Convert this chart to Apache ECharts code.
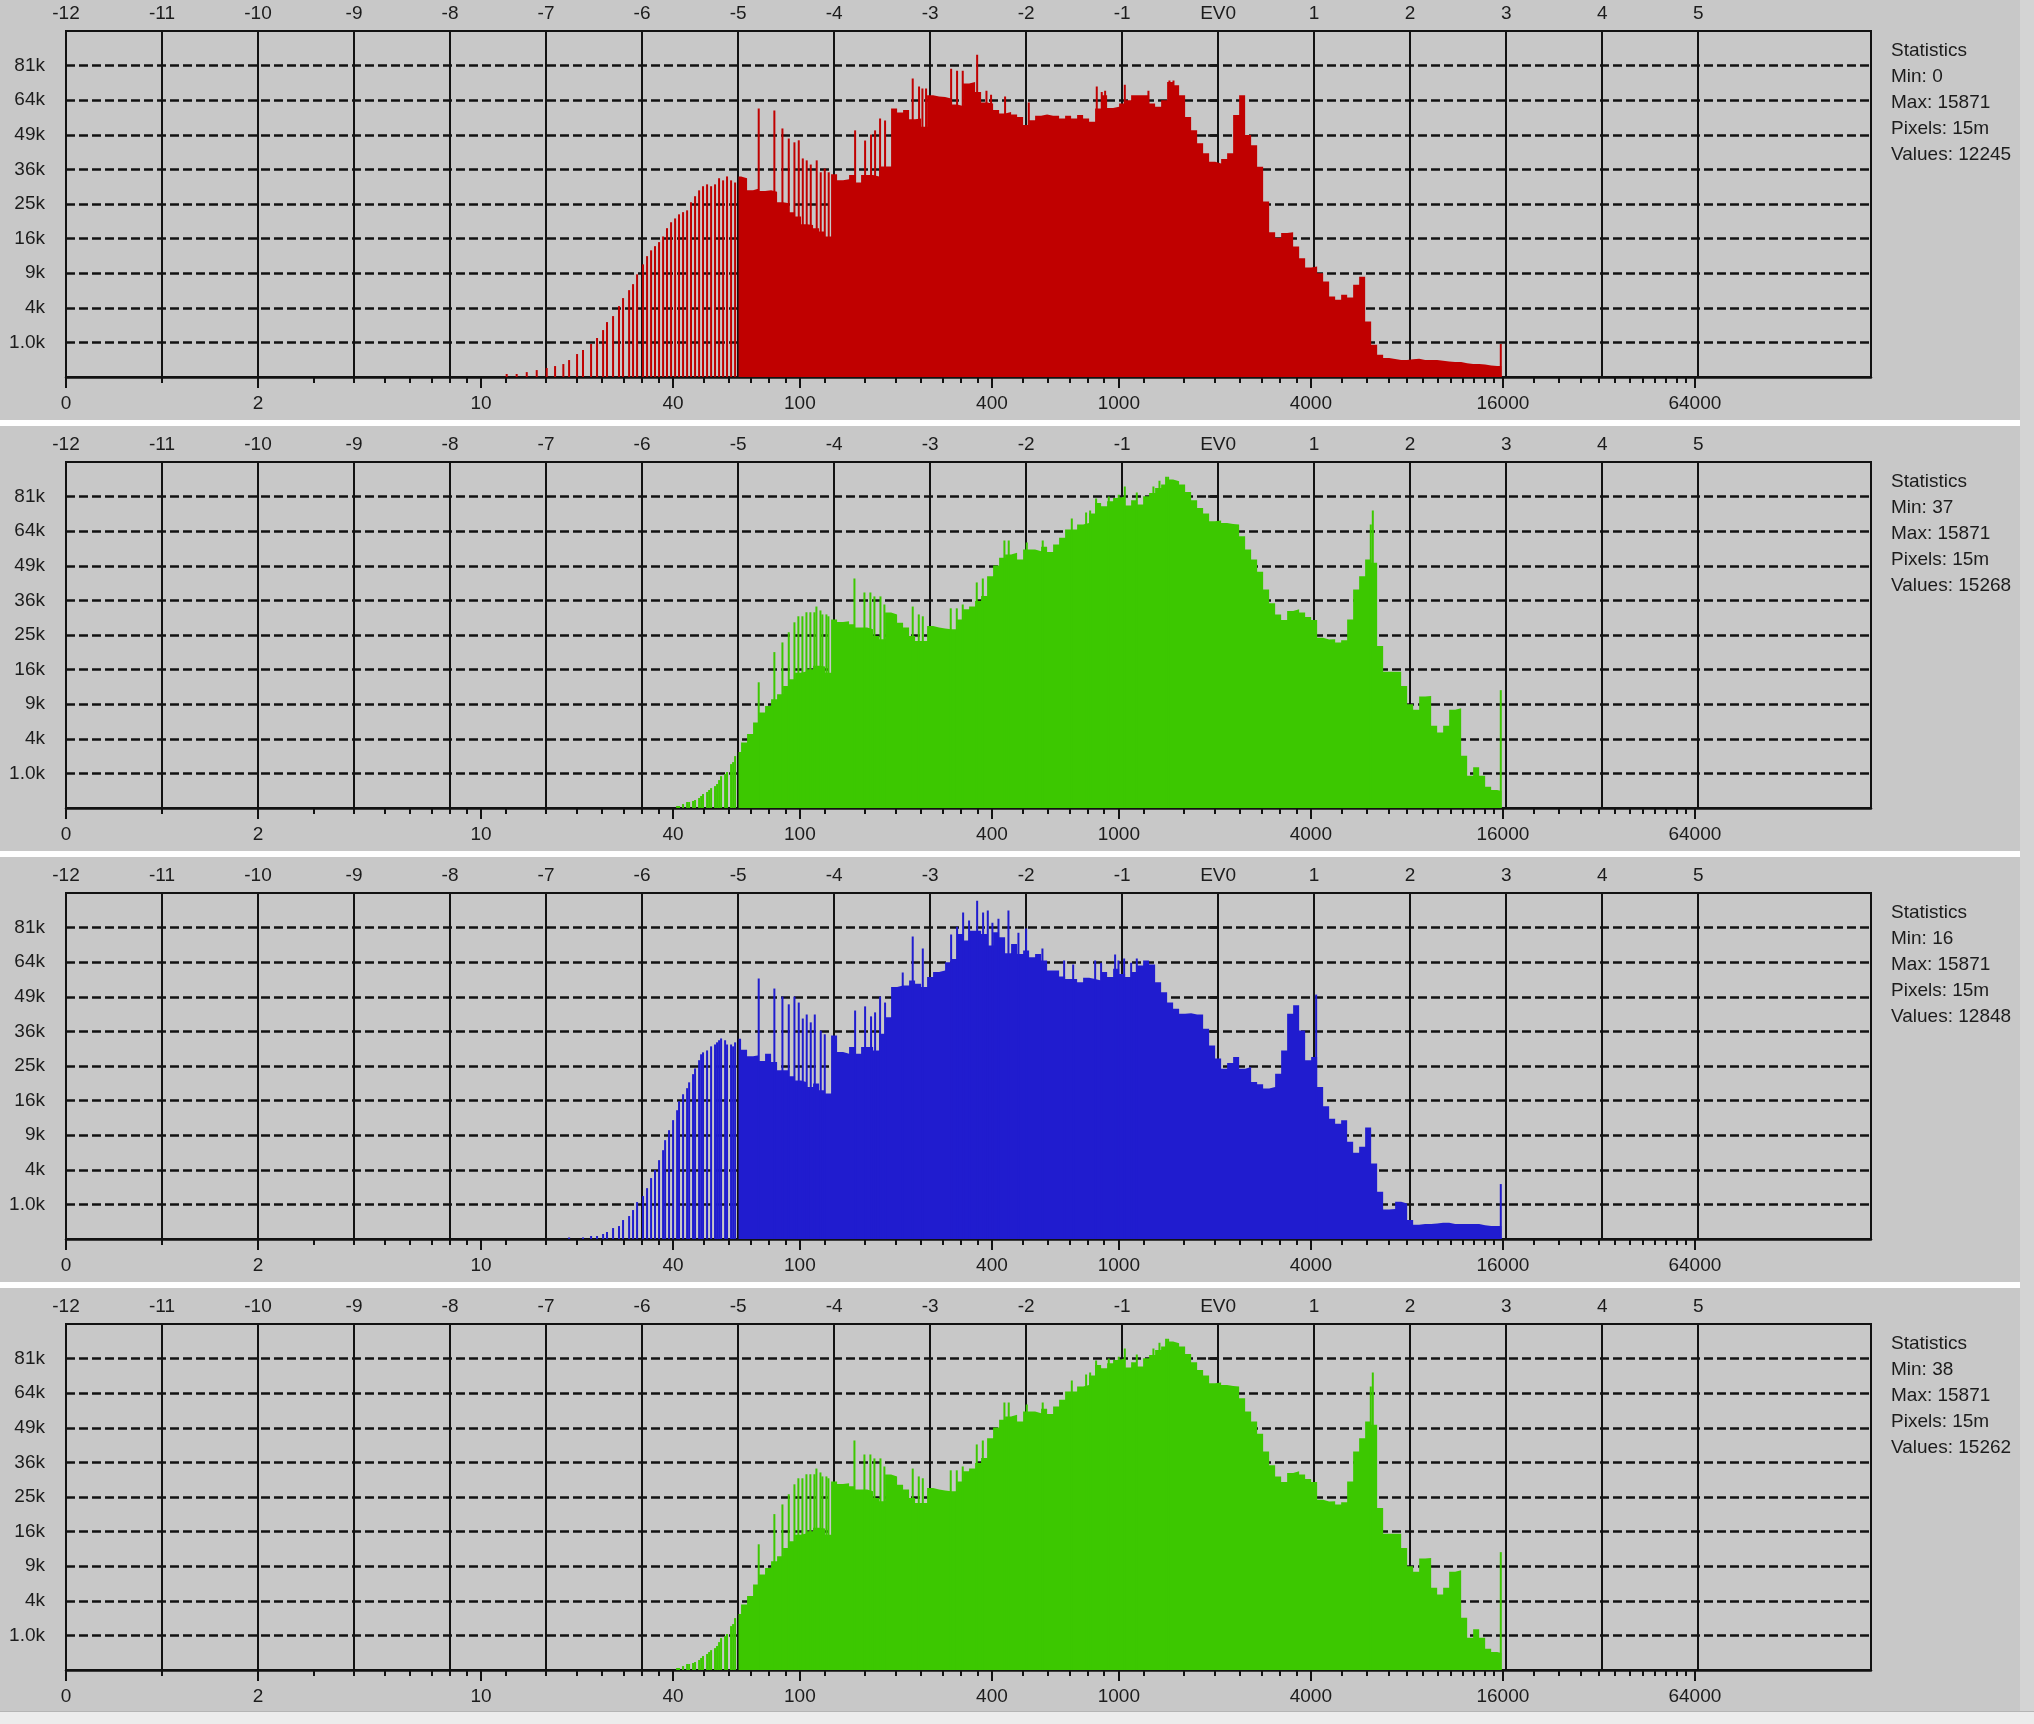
<!DOCTYPE html>
<html>
<head>
<meta charset="utf-8">
<script src="https://cdn.jsdelivr.net/npm/echarts@6/dist/echarts.min.js"></script>
<style>
html,body{margin:0;padding:0;background:#c8c8c8;}
#chart{width:2034px;height:1724px;}
</style>
</head>
<body>
<div id="chart"></div>
<script>
// ---------- axes ----------
const rawAtEV0 = 2048;                 // raw level shown at EV0
const evMin = -12, evMax = 6.8;
const evTicks = [-12,-11,-10,-9,-8,-7,-6,-5,-4,-3,-2,-1,0,1,2,3,4,5];
const evTickLabels = ['-12','-11','-10','-9','-8','-7','-6','-5','-4','-3','-2','-1','EV0','1','2','3','4','5'];
const levelLabelValues = [0,2,10,40,100,400,1000,4000,16000,64000];
const levelLabelTexts = ['0','2','10','40','100','400','1000','4000','16000','64000'];
const levelMinorValues = [1,3,4,5,6,7,8,9,12,16,20,24,28,32,36,50,60,70,80,90,
  120,160,200,240,280,320,360,500,600,700,800,900,1200,1600,2000,2400,2800,3200,3600,
  5000,6000,7000,8000,9000,10000,11000,12000,13000,14000,15000,
  20000,24000,28000,32000,36000,40000,44000,48000,52000,56000,60000];
const countTickK = [1,4,9,16,25,36,49,64,81];
const countTickLabels = ['1.0k','4k','9k','16k','25k','36k','49k','64k','81k'];
const countAxisMaxK = 100;

// ---------- histogram bins (counts in thousands, 1/16 EV bins starting at EV -5) ----------
const bodyStartEV = -5, bodyBinEV = 1/16, bodyFirstEdgeEV = -4.995, bodyLastEdgeEV = 2.95;

const redBodyK = [33.6,33.0,29.1,29.7,28.9,29.1,28.7,25.5,25.2,22.7,21.5,19.5,19.3,18.5,17.7,16.5,
  34.3,32.3,32.7,34.1,31.6,34.1,34.1,33.6,37.0,37.0,60.2,58.4,59.6,55.5,55.8,52.3,
  66.3,65.7,65.5,64.8,62.0,61.4,71.9,72.7,67.9,62.9,
  62.5,59.5,58.0,58.7,57.6,56.5,53.0,55.1,57.0,57.6,57.0,57.0,55.8,57.0,55.8,57.3,55.8,54.4,60.2,66.3,
  60.5,61.0,62.5,64.0,66.3,66.3,66.3,62.5,61.0,64.0,72.7,71.1,66.3,56.5,50.9,45.6,41.8,38.7,38.1,39.7,
  41.8,57.3,66.3,48.9,44.9,36.9,25.7,17.5,16.2,17.3,17.5,14.2,11.8,10.0,10.2,9.0,7.6,5.41,4.98,5.64,
  5.28,7.1,8.4,2.58,0.87,0.41,0.30,0.27,0.24,0.24,0.26,0.28,0.24,0.24,0.24,0.22,0.20,0.19,0.19,0.16,
  0.14,0.14,0.13,0.11,0.10,0.10];
const redComb = [[-7.410,0.0075],[-7.306,0.0075],[-7.201,0.02],[-7.097,0.04],[-6.993,0.067],[-6.906,0.10],
  [-6.820,0.14],[-6.760,0.24],[-6.677,0.44],[-6.615,0.61],[-6.531,0.91],[-6.469,1.27],[-6.406,1.84],
  [-6.365,2.52],[-6.302,3.1],[-6.240,4.2],[-6.198,5.2],[-6.135,6.3],[-6.094,7.2],[-6.052,8.8],[-5.990,10.6],
  [-5.948,12.2],[-5.906,13.4],[-5.865,14.3],[-5.823,15.2],[-5.781,16.5],[-5.740,18.5],[-5.698,20.0],
  [-5.656,21.0],[-5.615,22.1],[-5.573,22.7],[-5.531,23.2],[-5.490,25.5],[-5.448,27.3],[-5.406,29.1],
  [-5.365,30.4],[-5.323,31.0],[-5.281,30.4],[-5.240,31.0],[-5.198,33.0],[-5.156,32.3],[-5.115,33.6],
  [-5.073,32.3],[-5.031,31.6]];
const redSpikes = [[-4.785,60.2],[-4.622,59.3],[-4.538,51.6],[-4.472,47.5],[-4.413,46.0],[-4.368,46.8],
  [-4.326,39.9],[-4.285,39.2],[-4.243,37.7],[-4.181,39.2],[-4.139,35.0],[-4.097,36.3],[-4.056,35.0],
  [-3.781,50.8],[-3.677,46.7],[-3.615,49.1],[-3.573,50.8],[-3.521,55.8],[-3.469,55.0],[-3.181,74.4],
  [-3.115,70.5],[-3.080,69.5],[-3.042,69.5],[-2.781,79.4],[-2.719,78.4],[-2.660,78.4],[-2.510,86.8],
  [-2.413,68.5],[-2.365,66.6],[-2.219,65.7],[-1.972,62.9],[-1.264,70.5],[-1.212,67.9],[-1.177,68.5],
  [-0.972,71.4],[-0.726,68.5],[-0.507,73.4],[-0.465,73.4],[2.944,0.91]];

const greenBodyK = [2.61,3.59,4.56,6.11,7.62,8.71,9.89,10.8,12.45,13.85,15.3,15.6,16.1,16.9,16.7,15.3,
  29.7,28.9,29.1,28.2,27.2,27.2,26.7,24.7,23.8,31.9,31.3,28.7,27.2,24.7,23.3,23.3,
  27.7,27.2,26.9,26.7,26.7,29.7,33.0,33.9,35.8,37.5,
  44.9,49.1,52.3,53.7,54.4,51.6,55.8,55.8,55.1,57.0,54.7,58.0,61.0,64.8,64.8,67.1,67.9,72.4,77.7,76.1,
  78.6,80.3,81.2,76.4,79.1,76.9,81.2,82.9,85.6,87.4,90.1,89.2,87.4,83.4,79.1,75.2,72.4,68.7,69.0,67.9,
  67.4,67.1,61.7,55.8,51.6,46.6,39.9,35.0,31.3,29.5,32.4,33.0,31.9,30.5,29.5,24.2,23.7,23.8,22.9,23.5,
  29.7,39.9,44.9,51.6,50.2,21.9,15.5,15.5,15.5,12.45,9.0,8.05,10.4,10.5,5.64,4.76,5.64,8.05,8.32,2.28,
  0.87,1.38,0.87,0.38,0.27,0.24];
const greenComb = [[-5.635,0.0033],[-5.615,0.0033],[-5.573,0.013],[-5.531,0.03],[-5.510,0.03],[-5.469,0.041],
  [-5.448,0.053],[-5.406,0.083],[-5.385,0.12],[-5.365,0.163],[-5.323,0.213],[-5.302,0.27],[-5.281,0.33],
  [-5.240,0.40],[-5.219,0.48],[-5.198,0.65],[-5.177,0.85],[-5.135,0.96],[-5.115,1.08],[-5.073,1.61],
  [-5.052,1.76],[-5.031,2.25]];
const greenSpikes = [[-4.785,13.2],[-4.622,20.3],[-4.538,22.9],[-4.472,25.8],[-4.413,28.8],[-4.372,30.7],
  [-4.330,30.7],[-4.288,32.0],[-4.247,32.0],[-4.205,32.0],[-4.184,33.9],[-4.142,32.6],[-4.122,31.3],
  [-4.080,31.3],[-4.059,30.7],[-3.788,44.0],[-3.684,38.8],[-3.622,38.8],[-3.580,37.4],[-3.517,37.4],
  [-3.476,34.6],[-3.181,33.9],[-3.118,31.3],[-3.076,30.7],[-2.785,33.3],[-2.722,33.3],[-2.660,34.6],
  [-2.514,42.5],[-2.451,44.0],[-2.226,59.8],[-2.181,59.8],[-1.993,58.9],[-1.827,59.8],[-1.524,70.0],
  [-1.375,72.9],[-1.333,73.9],[-1.271,80.0],[-1.139,81.0],[-1.035,82.0],[-0.972,86.3],[-0.847,83.1],
  [-0.674,86.3],[-0.611,89.5],[-0.542,91.7],[-0.521,91.7],[1.590,67.1],[1.611,73.9],[2.944,11.6]];

const blueBodyK = [33.5,29.9,27.9,28.2,26.5,28.7,26.2,23.8,23.8,22.1,21.0,20.5,19.3,20.2,18.5,17.7,
  34.6,29.2,28.7,30.8,28.7,30.8,30.8,29.7,35.2,41.1,53.0,53.7,53.7,55.8,54.4,53.0,
  57.3,59.5,60.2,64.0,65.5,77.7,74.4,79.4,79.4,77.7,
  71.9,78.6,76.1,68.2,72.7,67.9,69.5,66.3,67.9,64.8,60.2,60.2,57.6,56.5,56.5,55.1,57.0,56.5,55.8,59.5,
  57.3,61.0,58.7,57.3,59.5,62.5,64.8,62.9,55.1,50.9,46.7,44.3,42.4,42.6,42.1,42.1,36.9,31.3,27.2,24.2,
  25.9,27.7,24.2,24.7,20.6,20.0,18.9,19.3,22.8,29.7,42.4,45.6,36.3,26.7,27.7,19.3,14.7,12.1,11.1,11.8,
  7.88,6.2,7.1,10.4,4.76,1.86,0.73,0.75,1.16,1.06,0.30,0.17,0.19,0.19,0.20,0.22,0.22,0.19,0.19,0.19,
  0.19,0.19,0.16,0.14,0.14,0.14];
const blueComb = [[-6.760,0.002],[-6.615,0.002],[-6.531,0.0075],[-6.469,0.0075],[-6.406,0.021],[-6.365,0.041],
  [-6.302,0.10],[-6.240,0.14],[-6.198,0.30],[-6.135,0.44],[-6.094,0.70],[-6.052,1.14],[-5.990,1.54],
  [-5.948,2.16],[-5.906,3.10],[-5.865,3.96],[-5.823,5.19],[-5.781,6.59],[-5.760,8.16],[-5.719,9.89],
  [-5.677,11.8],[-5.635,13.85],[-5.615,15.85],[-5.573,17.5],[-5.531,19.0],[-5.510,20.5],[-5.469,22.7],
  [-5.448,24.3],[-5.406,26.7],[-5.385,28.5],[-5.365,29.1],[-5.323,29.7],[-5.281,31.0],[-5.240,31.6],
  [-5.219,32.3],[-5.198,33.0],[-5.177,33.6],[-5.135,33.0],[-5.115,31.6],[-5.073,31.6],[-5.052,31.0],
  [-5.031,32.3]];
const blueSpikes = [[-4.785,56.7],[-4.622,52.4],[-4.538,49.1],[-4.472,46.0],[-4.413,49.1],[-4.368,46.7],
  [-4.326,40.6],[-4.285,42.1],[-4.243,39.2],[-4.201,42.1],[-4.139,36.3],[-4.097,35.0],[-3.781,43.6],
  [-3.677,45.2],[-3.615,41.4],[-3.573,42.9],[-3.521,49.1],[-3.469,46.7],[-3.285,59.3],[-3.181,76.4],
  [-3.076,70.5],[-2.781,77.4],[-2.719,81.5],[-2.656,89.0],[-2.594,84.7],[-2.510,95.6],[-2.448,89.0],
  [-2.399,90.1],[-2.351,83.6],[-2.288,85.7],[-2.184,90.1],[-2.080,78.4],[-2.000,80.5],[-1.830,70.5],
  [-1.604,64.8],[-1.510,62.9],[-1.281,64.8],[-1.219,63.8],[-1.073,67.6],[-1.038,64.8],[-0.979,65.7],
  [-0.906,63.8],[-0.847,65.7],[1.021,49.9],[2.944,2.52]];

const green2BodyK = [2.61,3.59,4.56,6.11,7.62,8.71,9.89,10.8,12.45,13.85,15.3,15.6,16.1,16.9,16.7,15.3,
  29.7,28.9,29.1,28.2,27.2,27.2,26.7,24.7,23.8,31.9,31.3,28.7,27.2,24.7,23.3,23.3,
  27.7,27.2,26.9,26.7,26.7,29.7,33.0,33.9,35.8,37.5,
  44.9,49.1,52.3,53.7,54.4,51.6,55.8,55.8,55.1,57.0,54.7,58.0,61.0,64.8,64.8,67.1,67.9,72.4,77.7,76.1,
  78.6,80.3,81.2,76.4,79.1,76.9,81.2,82.9,85.6,87.4,90.1,89.2,87.4,83.4,79.1,75.2,72.4,68.7,69.0,67.9,
  67.4,67.1,61.7,55.8,51.6,46.6,39.9,35.0,31.3,29.5,32.4,33.0,31.9,30.5,29.5,24.2,23.7,23.8,22.9,23.5,
  29.7,39.9,44.9,51.6,50.2,21.9,15.5,15.5,15.5,12.45,9.0,8.05,10.4,10.5,5.64,4.76,5.64,8.05,8.32,2.28,
  0.87,1.38,0.87,0.38,0.27,0.24];
const green2Comb = [[-5.635,0.0033],[-5.615,0.0033],[-5.573,0.013],[-5.531,0.03],[-5.510,0.03],[-5.469,0.041],
  [-5.448,0.053],[-5.406,0.083],[-5.385,0.12],[-5.365,0.163],[-5.323,0.213],[-5.302,0.27],[-5.281,0.33],
  [-5.240,0.40],[-5.219,0.48],[-5.198,0.65],[-5.177,0.85],[-5.135,0.96],[-5.115,1.08],[-5.073,1.61],
  [-5.052,1.76],[-5.031,2.25]];
const green2Spikes = [[-4.785,13.2],[-4.622,20.3],[-4.538,22.9],[-4.472,25.8],[-4.413,28.8],[-4.372,30.7],
  [-4.330,30.7],[-4.288,32.0],[-4.247,32.0],[-4.205,32.0],[-4.184,33.9],[-4.142,32.6],[-4.122,31.3],
  [-4.080,31.3],[-4.059,30.7],[-3.788,44.0],[-3.684,38.8],[-3.622,38.8],[-3.580,37.4],[-3.517,37.4],
  [-3.476,34.6],[-3.181,33.9],[-3.118,31.3],[-3.076,30.7],[-2.785,33.3],[-2.722,33.3],[-2.660,34.6],
  [-2.514,42.5],[-2.451,44.0],[-2.226,59.8],[-2.181,59.8],[-1.993,58.9],[-1.827,59.8],[-1.524,70.0],
  [-1.375,72.9],[-1.333,73.9],[-1.271,80.0],[-1.139,81.0],[-1.035,82.0],[-0.972,86.3],[-0.847,83.1],
  [-0.674,86.3],[-0.611,89.5],[-0.542,91.7],[-0.521,91.7],[1.590,67.1],[1.611,73.9],[2.944,11.6]];

// ---------- statistics ----------
const statTitle = 'Statistics';
const redStats = ['Min: 0','Max: 15871','Pixels: 15m','Values: 12245'];
const greenStats = ['Min: 37','Max: 15871','Pixels: 15m','Values: 15268'];
const blueStats = ['Min: 16','Max: 15871','Pixels: 15m','Values: 12848'];
const green2Stats = ['Min: 38','Max: 15871','Pixels: 15m','Values: 15262'];

// ---------- build ----------
const FONT = '"Liberation Sans", Arial, Helvetica, sans-serif';
const INK = '#121212';
const TEXT = '#1c1c1c';
const panels = [
  {color:'#c00000', body:redBodyK, comb:redComb, spikes:redSpikes, stats:redStats},
  {color:'#3cc800', body:greenBodyK, comb:greenComb, spikes:greenSpikes, stats:greenStats},
  {color:'#201ccf', body:blueBodyK, comb:blueComb, spikes:blueSpikes, stats:blueStats},
  {color:'#3cc800', body:green2BodyK, comb:green2Comb, spikes:green2Spikes, stats:green2Stats}
];
const gridLeft = 66, gridRight = 163, gridTop0 = 31, gridH = 346, panelStep = 431;

function levelToEV(v){ return v <= 0 ? evMin : Math.log2(v / rawAtEV0); }
const majorEV = levelLabelValues.map(levelToEV);
const minorEV = levelMinorValues.map(levelToEV);
const countTicks = countTickK.map(Math.sqrt);
function nearest(arr, v){ let b=0,d=Infinity; arr.forEach((a,i)=>{const dd=Math.abs(a-v); if(dd<d){d=dd;b=i;}}); return b; }

function bodyPoints(ks){
  const pts = [];
  for (let i=0;i<ks.length;i++){
    const edge = i===0 ? bodyFirstEdgeEV : bodyStartEV + i*bodyBinEV - bodyBinEV/2;
    pts.push([edge, Math.sqrt(ks[i])]);
  }
  pts.push([bodyLastEdgeEV, Math.sqrt(ks[ks.length-1])]);
  return pts;
}
function spikeRender(color){
  return function(params, api){
    const top = api.coord([api.value(0), api.value(1)]);
    const base = api.coord([api.value(0), 0]);
    return {type:'rect', shape:{x:top[0]-1, y:top[1], width:2, height:base[1]-top[1]}, style:{fill:color}};
  };
}

const grid=[], xAxis=[], yAxis=[], series=[], graphic=[];
panels.forEach((p,g)=>{
  const top = gridTop0 + g*panelStep;
  grid.push({left:gridLeft, right:gridRight, top:top, height:gridH, show:true,
    borderColor:INK, borderWidth:2, backgroundColor:'transparent'});
  // EV axis (top)
  xAxis.push({gridIndex:g, type:'value', position:'top', min:evMin, max:evMax, interval:1,
    axisLine:{show:false}, axisTick:{show:false, customValues:evTicks},
    axisLabel:{customValues:evTicks, margin:8, color:TEXT, fontSize:19, fontFamily:FONT,
      formatter:v=>evTickLabels[nearest(evTicks,v)]},
    splitLine:{show:true, lineStyle:{color:INK, width:2}}});
  // raw level axis (bottom), labelled ticks
  xAxis.push({gridIndex:g, type:'value', position:'bottom', min:evMin, max:evMax,
    axisLine:{show:true, onZero:false, lineStyle:{color:INK, width:2.5}},
    axisTick:{show:true, customValues:majorEV, length:11, lineStyle:{color:INK, width:2}},
    axisLabel:{customValues:majorEV, margin:17, color:TEXT, fontSize:19, fontFamily:FONT,
      formatter:v=>levelLabelTexts[nearest(majorEV,v)]},
    splitLine:{show:false}});
  // raw level axis (bottom), minor ticks
  xAxis.push({gridIndex:g, type:'value', position:'bottom', min:evMin, max:evMax,
    axisLine:{show:false, onZero:false},
    axisTick:{show:true, customValues:minorEV, length:6, lineStyle:{color:INK, width:2}},
    axisLabel:{show:false}, splitLine:{show:false}});
  yAxis.push({gridIndex:g, type:'value', min:0, max:Math.sqrt(countAxisMaxK), interval:1,
    axisLine:{show:false},
    axisTick:{show:true, customValues:countTicks, length:10, lineStyle:{color:INK, width:2.5}},
    axisLabel:{customValues:countTicks, margin:21, color:TEXT, fontSize:19, fontFamily:FONT,
      formatter:v=>countTickLabels[nearest(countTicks,v)]},
    splitLine:{show:true, lineStyle:{color:INK, width:2.5, type:[9,4]}}});
  const xi = g*3;
  series.push({type:'line', xAxisIndex:xi, yAxisIndex:g, data:bodyPoints(p.body), step:'end',
    symbol:'none', showSymbol:false, lineStyle:{width:0, color:p.color},
    areaStyle:{color:p.color, opacity:1}, silent:true, animation:false, clip:true, z:3});
  series.push({type:'custom', xAxisIndex:xi, yAxisIndex:g,
    data:p.comb.map(d=>[d[0], Math.sqrt(d[1])]), renderItem:spikeRender(p.color),
    silent:true, animation:false, clip:true, z:3});
  series.push({type:'custom', xAxisIndex:xi, yAxisIndex:g,
    data:p.spikes.map(d=>[d[0], Math.sqrt(d[1])]), renderItem:spikeRender(p.color),
    silent:true, animation:false, clip:true, z:3});
  // statistics block
  [statTitle].concat(p.stats).forEach((t,j)=>{
    graphic.push({type:'text', x:1891, y:top+20+j*26,
      style:{text:t, fill:TEXT, font:'19px '+FONT, verticalAlign:'middle', align:'left'}});
  });
  if (g<3) graphic.push({type:'rect', shape:{x:0, y:top+389, width:2020, height:6}, style:{fill:'#ffffff'}});
});
graphic.push({type:'rect', shape:{x:2020, y:0, width:14, height:1712}, style:{fill:'#d4d4d4'}});
graphic.push({type:'rect', shape:{x:0, y:1712, width:2034, height:12}, style:{fill:'#ececec'}});
graphic.push({type:'rect', shape:{x:0, y:1711, width:2034, height:1}, style:{fill:'#b4b4b4'}});

const chart = echarts.init(document.getElementById('chart'), null, {renderer:'canvas'});
chart.setOption({
  backgroundColor:'#c8c8c8',
  animation:false,
  textStyle:{fontFamily:FONT},
  grid, xAxis, yAxis, series, graphic
});
</script>
</body>
</html>
